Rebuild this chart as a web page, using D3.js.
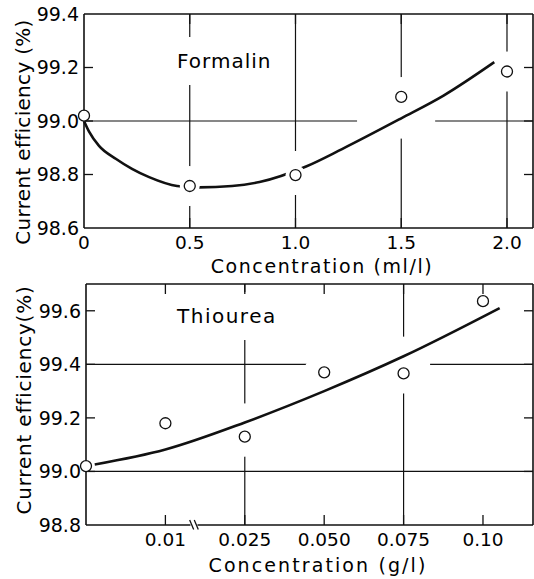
<!DOCTYPE html>
<html>
<head>
<meta charset="utf-8">
<script src="https://cdn.jsdelivr.net/npm/d3@7"></script>
<style>
  body { margin: 0; background: #fff; }
  svg { display: block; font-family: "DejaVu Sans", sans-serif; }
</style>
</head>
<body>
<svg id="chart" width="534" height="579"></svg>
<script>
// --- Formalin (top panel) ---
const formalinConc = [0, 0.5, 1.0, 1.5, 2.0];
const formalinEff = [99.02, 98.757, 98.798, 99.09, 99.185];
const formalinFitConc = [0, 0.024, 0.071, 0.152, 0.227, 0.308, 0.44, 0.545, 0.70, 0.83, 1.05, 1.22, 1.50, 1.70, 1.94];
const formalinFitEff = [99.0, 98.96, 98.907, 98.858, 98.821, 98.79, 98.757, 98.752, 98.757, 98.772, 98.83, 98.895, 99.01, 99.095, 99.22];
const formalinXTicks = [0, 0.5, 1.0, 1.5, 2.0];
const formalinXLabels = ["0", "0.5", "1.0", "1.5", "2.0"];
const formalinYTicks = [98.6, 98.8, 99.0, 99.2, 99.4];
const formalinGridX = [0.5, 1.0, 1.5, 2.0];
const formalinGridY = [99.0];

// --- Thiourea (bottom panel), x axis is categorical with a break after 0.01 ---
const thioureaConc = ["0", "0.01", "0.025", "0.050", "0.075", "0.10"];
const thioureaEff = [99.02, 99.18, 99.13, 99.37, 99.366, 99.636];
// fitted curve, x given as position along the category axis
const thioureaFitPos = [0.11, 1.0, 2.0, 3.0, 4.0, 5.21];
const thioureaFitEff = [99.026, 99.082, 99.183, 99.30, 99.43, 99.61];
const thioureaXLabels = ["", "0.01", "0.025", "0.050", "0.075", "0.10"];
const thioureaYTicks = [98.8, 99.0, 99.2, 99.4, 99.6];
const thioureaGridX = ["0.025", "0.075"];
const thioureaGridY = [99.0, 99.4];

const W = 534, H = 579;

const panels = [
  {
    id: "formalin",
    label: "Formalin", labelSpacing: 1,
    xTitle: "Concentration (ml/l)", xTitleSpacing: 1.6,
    yTitle: "Current efficiency (%)", yTitleSpacing: 0.3,
    x: d3.scaleLinear().domain([0, 2.123]).range([84, 533]),
    y: d3.scaleLinear().domain([98.6, 99.4]).range([228, 14]),
    points: formalinConc.map((c, i) => ({ pos: c, eff: formalinEff[i] })),
    fit: formalinFitConc.map((c, i) => [c, formalinFitEff[i]]),
    xTicks: formalinXTicks.map((c, i) => ({ pos: c, label: formalinXLabels[i] })),
    yTicks: formalinYTicks,
    gridX: formalinGridX,
    gridY: formalinGridY,
    labelAt: [177, 68], xTitleAt: [322, 273], yTitleAt: [30, 132]
  },
  {
    id: "thiourea",
    label: "Thiourea", labelSpacing: 1.5,
    xTitle: "Concentration (g/l)", xTitleSpacing: 2.1,
    yTitle: "Current efficiency(%)", yTitleSpacing: 0.8,
    x: d3.scaleLinear().domain([0, 5.63]).range([86, 533]),
    y: d3.scaleLinear().domain([98.8, 99.7]).range([525, 284]),
    points: thioureaConc.map((c, i) => ({ pos: i, eff: thioureaEff[i] })),
    fit: thioureaFitPos.map((p, i) => [p, thioureaFitEff[i]]),
    xTicks: thioureaConc.map((c, i) => ({ pos: i, label: thioureaXLabels[i] })),
    yTicks: thioureaYTicks,
    gridX: thioureaGridX.map(c => thioureaConc.indexOf(c)),
    gridY: thioureaGridY,
    breakAt: 1.36,
    labelAt: [177, 323], xTitleAt: [318, 572], yTitleAt: [31, 400]
  }
];

const svg = d3.select("#chart");
const defs = svg.append("defs");

function newMask(id) {
  const m = defs.append("mask").attr("id", id)
    .attr("maskUnits", "userSpaceOnUse")
    .attr("x", 0).attr("y", 0).attr("width", W).attr("height", H);
  m.append("rect").attr("width", W).attr("height", H).attr("fill", "white");
  return m;
}

panels.forEach(p => {
  const x = p.x, y = p.y;
  const [xl, xr] = x.range();
  const [yb, yt] = y.range();
  const g = svg.append("g");

  const gridG = g.append("g").attr("mask", `url(#${p.id}-grid)`);
  const curveG = g.append("g").attr("mask", `url(#${p.id}-curve)`);

  // panel label (measured so the grid can break around it)
  const label = g.append("text")
    .attr("x", p.labelAt[0]).attr("y", p.labelAt[1])
    .attr("font-size", 20).attr("letter-spacing", p.labelSpacing)
    .text(p.label);
  const bb = label.node().getBBox();

  const fitPx = p.fit.map(d => [x(d[0]), y(d[1])]);
  const inner = p.points.filter(d => d.pos > x.domain()[0]);

  // mask for grid lines: gaps round label, points and curve crossings
  const gm = newMask(p.id + "-grid");
  gm.append("rect")
    .attr("x", bb.x - 12).attr("y", bb.y - 12)
    .attr("width", bb.width + 24).attr("height", bb.height + 24)
    .attr("fill", "black");
  gm.selectAll("circle").data(inner).join("circle")
    .attr("cx", d => x(d.pos)).attr("cy", d => y(d.eff))
    .attr("r", 20).attr("fill", "black");

  function crossings(val, vertical) {
    const out = [];
    for (let i = 0; i < fitPx.length - 1; i++) {
      const k = vertical ? 0 : 1;
      const a = fitPx[i][k] - val, b = fitPx[i + 1][k] - val;
      if ((a < 0 && b >= 0) || (a > 0 && b <= 0)) {
        const t = a / (a - b);
        const dx = fitPx[i + 1][0] - fitPx[i][0], dy = fitPx[i + 1][1] - fitPx[i][1];
        const len = Math.hypot(dx, dy);
        const s = Math.max((vertical ? Math.abs(dx) : Math.abs(dy)) / len, 0.3);
        out.push({ cx: fitPx[i][0] + t * dx, cy: fitPx[i][1] + t * dy, h: 18 / s });
      }
    }
    return out;
  }
  p.gridX.forEach(v => {
    crossings(x(v), true).forEach(c => {
      gm.append("line").attr("x1", c.cx).attr("x2", c.cx)
        .attr("y1", c.cy - c.h).attr("y2", c.cy + c.h)
        .attr("stroke", "black").attr("stroke-width", 6);
    });
  });
  p.gridY.forEach(v => {
    crossings(y(v), false).forEach(c => {
      gm.append("line").attr("y1", c.cy).attr("y2", c.cy)
        .attr("x1", c.cx - c.h).attr("x2", c.cx + c.h)
        .attr("stroke", "black").attr("stroke-width", 6);
    });
  });

  // mask for the fitted curve: it stops short of markers it runs through
  const cm = newMask(p.id + "-curve");
  cm.selectAll("circle").data(inner).join("circle")
    .attr("cx", d => x(d.pos)).attr("cy", d => y(d.eff))
    .attr("r", 10).attr("fill", "black");

  // grid
  gridG.selectAll(".gx").data(p.gridX).join("line")
    .attr("x1", d => x(d)).attr("x2", d => x(d))
    .attr("y1", yt).attr("y2", yb)
    .attr("stroke", "#111").attr("stroke-width", 1.2);
  gridG.selectAll(".gy").data(p.gridY).join("line")
    .attr("x1", xl).attr("x2", xr)
    .attr("y1", d => y(d)).attr("y2", d => y(d))
    .attr("stroke", "#111").attr("stroke-width", 1.2);

  // frame
  const frame = g.append("g").attr("stroke", "#111").attr("stroke-width", 1.6).attr("fill", "none");
  frame.append("line").attr("x1", xl).attr("x2", xl).attr("y1", yt).attr("y2", yb);
  frame.append("line").attr("x1", xr).attr("x2", xr).attr("y1", yt).attr("y2", yb);
  frame.append("line").attr("x1", xl).attr("x2", xr).attr("y1", yt).attr("y2", yt);
  if (p.breakAt != null) {
    const bx = x(p.breakAt);
    frame.append("line").attr("x1", xl).attr("x2", bx - 3.5).attr("y1", yb).attr("y2", yb);
    frame.append("line").attr("x1", bx + 3.5).attr("x2", xr).attr("y1", yb).attr("y2", yb);
    [-2.3, 2.3].forEach(o => {
      frame.append("line")
        .attr("x1", bx + o - 2).attr("y1", yb - 5)
        .attr("x2", bx + o + 2).attr("y2", yb + 4.5)
        .attr("stroke-width", 1.3);
    });
  } else {
    frame.append("line").attr("x1", xl).attr("x2", xr).attr("y1", yb).attr("y2", yb);
  }

  // ticks (inward, on all four sides)
  const ticks = g.append("g").attr("stroke", "#111").attr("stroke-width", 1.3);
  const yIn = p.yTicks.filter(v => v > y.domain()[0] && v < y.domain()[1]);
  yIn.forEach(v => {
    ticks.append("line").attr("x1", xl).attr("x2", xl + 9).attr("y1", y(v)).attr("y2", y(v));
    ticks.append("line").attr("x1", xr - 9).attr("x2", xr).attr("y1", y(v)).attr("y2", y(v));
  });
  p.xTicks.filter(d => d.pos > x.domain()[0]).forEach(d => {
    ticks.append("line").attr("x1", x(d.pos)).attr("x2", x(d.pos)).attr("y1", yb).attr("y2", yb - 10);
    ticks.append("line").attr("x1", x(d.pos)).attr("x2", x(d.pos)).attr("y1", yt).attr("y2", yt + 10);
  });

  // tick labels
  g.append("g").selectAll("text").data(p.yTicks).join("text")
    .attr("x", xl - 5).attr("y", d => y(d)).attr("dy", "0.36em")
    .attr("text-anchor", "end").attr("font-size", 19)
    .text(d => d.toFixed(1));
  g.append("g").selectAll("text").data(p.xTicks).join("text")
    .attr("x", d => x(d.pos)).attr("y", yb + 21)
    .attr("text-anchor", "middle").attr("font-size", 18.5)
    .text(d => d.label);

  // axis titles
  g.append("text")
    .attr("x", p.xTitleAt[0]).attr("y", p.xTitleAt[1])
    .attr("text-anchor", "middle").attr("font-size", 19)
    .attr("letter-spacing", p.xTitleSpacing)
    .text(p.xTitle);
  g.append("text")
    .attr("transform", `translate(${p.yTitleAt[0]},${p.yTitleAt[1]}) rotate(-90)`)
    .attr("text-anchor", "middle").attr("font-size", 20)
    .attr("letter-spacing", p.yTitleSpacing)
    .text(p.yTitle);

  // fitted curve
  curveG.append("path")
    .attr("d", d3.line().curve(d3.curveMonotoneX)(fitPx))
    .attr("fill", "none").attr("stroke", "#111").attr("stroke-width", 2.6);

  // measured points
  g.append("g").selectAll("circle").data(p.points).join("circle")
    .attr("cx", d => x(d.pos)).attr("cy", d => y(d.eff))
    .attr("r", 5.5).attr("fill", "#fff")
    .attr("stroke", "#111").attr("stroke-width", 1.3);
});
</script>
</body>
</html>
